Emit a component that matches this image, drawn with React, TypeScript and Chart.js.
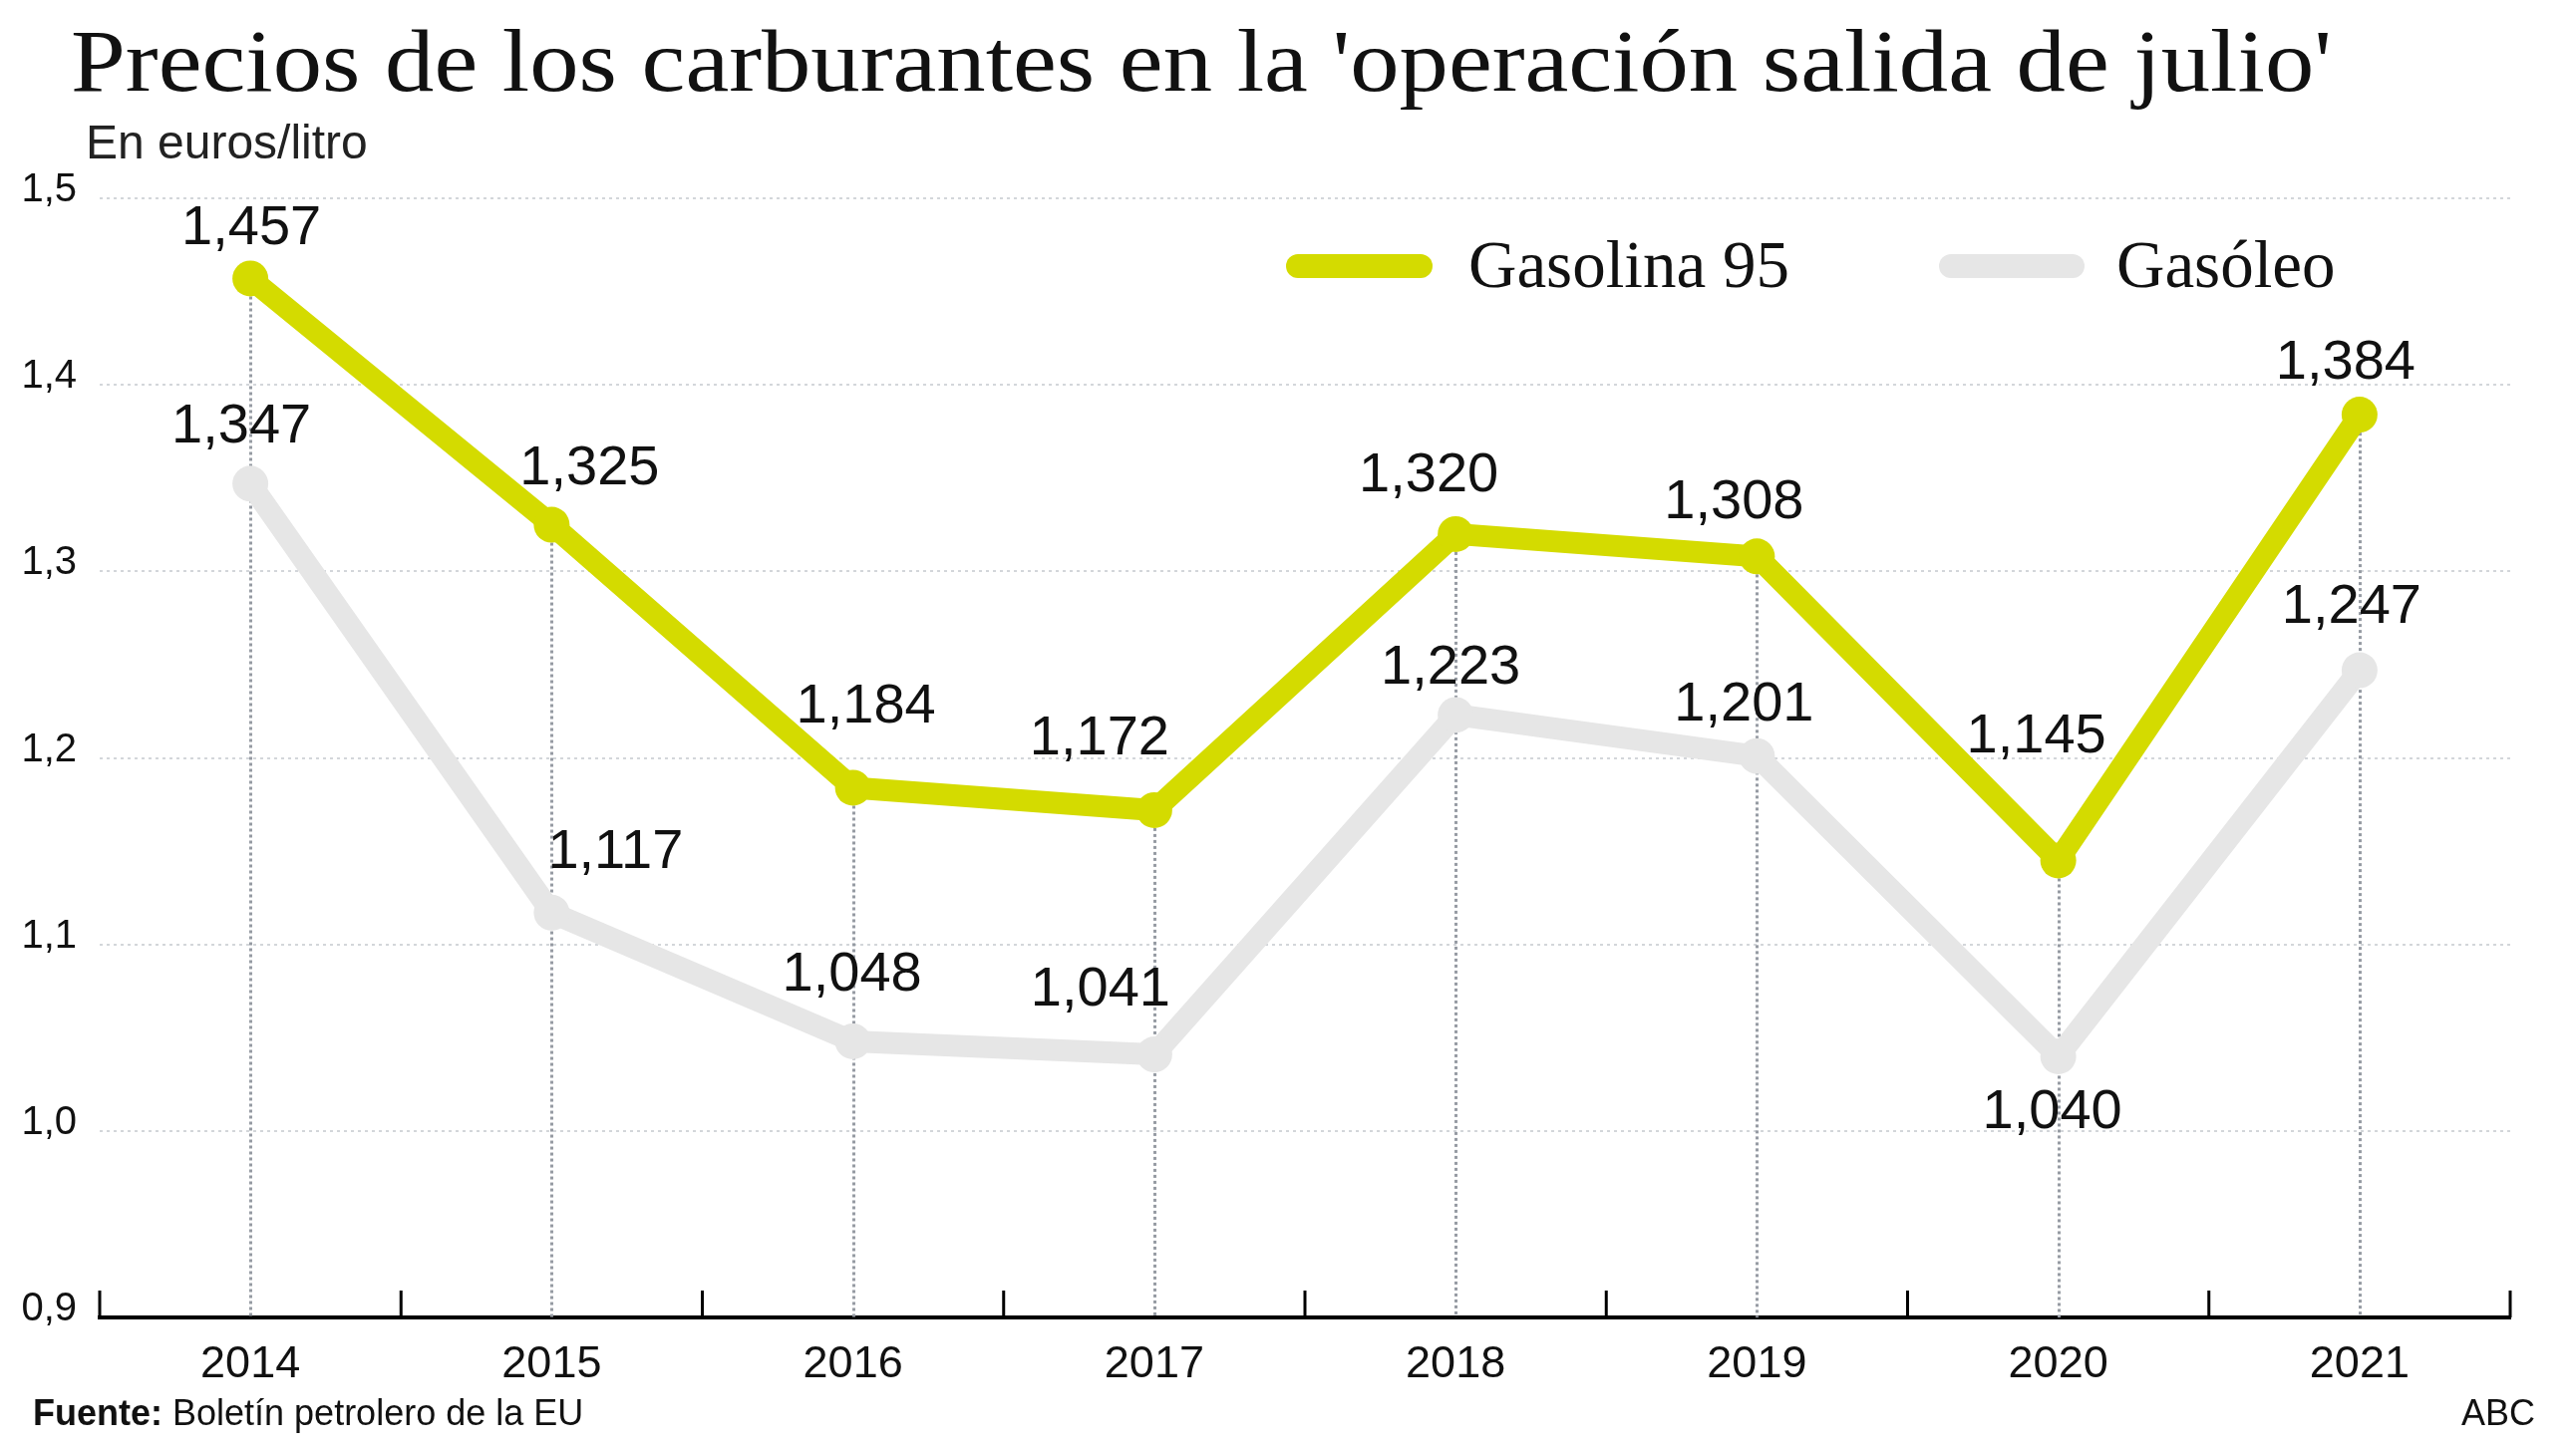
import React, { useEffect, useLayoutEffect, useRef } from "react";
import { Chart, registerables } from "chart.js";

Chart.register(...registerables);

// ---- data ----
const years = ["2014", "2015", "2016", "2017", "2018", "2019", "2020", "2021"];
const gasolina95 = [1.457, 1.325, 1.184, 1.172, 1.32, 1.308, 1.145, 1.384];
const gasoleo = [1.347, 1.117, 1.048, 1.041, 1.223, 1.201, 1.04, 1.247];
const seriesNames = ["Gasolina 95", "Gasóleo"];
const yMin = 0.9;
const yMax = 1.5;
const yStep = 0.1;

// ---- style ----
const gasolinaColor = "#d4db00";
const gasoleoColor = "#e6e6e6";
// value-label placement relative to each point [dx, dy] in px
const gasolinaLabelOffsets = [[1, -50], [38, -56], [13, -81], [-55, -71], [-27, -58], [-23, -54], [-22, -124], [-14, -52]];
const gasoleoLabelOffsets = [[-9, -57], [64, -60], [-1, -66], [-54, -65], [-5, -47], [-13, -51], [-6, 57], [-8, -63]];

const SANS = '"Liberation Sans", Arial, Helvetica, sans-serif';
const SERIF = '"Liberation Serif", "Times New Roman", serif';

const fmt = (v: number, d: number) => v.toFixed(d).replace(".", ",");

const decorPlugin = {
  id: "decor",
  beforeDatasetsDraw(chart: any) {
    const { ctx, chartArea } = chart;
    const xs = chart.scales.x;
    const ys = chart.scales.y;
    ctx.save();
    ctx.strokeStyle = "#969ba3";
    ctx.lineWidth = 3;
    ctx.setLineDash([3, 3]);
    years.forEach((_, i) => {
      const top = Math.max(gasolina95[i], gasoleo[i]);
      const x = Math.round(xs.getPixelForValue(i)) + 0.5;
      const y = ys.getPixelForValue(top);
      ctx.beginPath();
      ctx.moveTo(x, y);
      ctx.lineTo(x, chartArea.bottom);
      ctx.stroke();
    });
    ctx.restore();
  },
  afterDatasetsDraw(chart: any) {
    const { ctx, chartArea } = chart;
    const xs = chart.scales.x;
    // boundary ticks on the x axis
    ctx.save();
    ctx.strokeStyle = "#000";
    ctx.lineWidth = 3;
    for (let i = 0; i <= years.length; i++) {
      const x = xs.getPixelForValue(i - 0.5);
      ctx.beginPath();
      ctx.moveTo(x, chartArea.bottom);
      ctx.lineTo(x, chartArea.bottom - 27);
      ctx.stroke();
    }
    ctx.restore();

    // value labels
    ctx.save();
    ctx.font = `56px ${SANS}`;
    ctx.fillStyle = "#111";
    ctx.textAlign = "center";
    ctx.textBaseline = "middle";
    chart.data.datasets.forEach((ds: any, di: number) => {
      const meta = chart.getDatasetMeta(di);
      const offs = ds.label === seriesNames[0] ? gasolinaLabelOffsets : gasoleoLabelOffsets;
      meta.data.forEach((pt: any, i: number) => {
        const [dx, dy] = offs[i];
        ctx.fillText(fmt(ds.data[i], 3), pt.x + dx, pt.y + dy);
      });
    });
    ctx.restore();
  },
};

export default function App() {
  const canvasRef = useRef<HTMLCanvasElement | null>(null);
  const titleRef = useRef<HTMLDivElement | null>(null);

  useLayoutEffect(() => {
    const el = titleRef.current;
    if (el) {
      el.style.transform = "none";
      const w = el.getBoundingClientRect().width;
      if (w > 0) el.style.transform = `scaleX(${2268 / w})`;
    }
  }, []);

  useEffect(() => {
    if (!canvasRef.current) return;
    const chart = new Chart(canvasRef.current, {
      type: "line",
      data: {
        labels: years,
        datasets: [
          {
            label: seriesNames[1],
            data: gasoleo,
            borderColor: gasoleoColor,
            backgroundColor: gasoleoColor,
            pointBackgroundColor: gasoleoColor,
            pointBorderWidth: 0,
            borderWidth: 22,
            pointRadius: 18,
            pointHoverRadius: 18,
            tension: 0,
            borderJoinStyle: "round",
            borderCapStyle: "round",
          },
          {
            label: seriesNames[0],
            data: gasolina95,
            borderColor: gasolinaColor,
            backgroundColor: gasolinaColor,
            pointBackgroundColor: gasolinaColor,
            pointBorderWidth: 0,
            borderWidth: 22,
            pointRadius: 18,
            pointHoverRadius: 18,
            tension: 0,
            borderJoinStyle: "round",
            borderCapStyle: "round",
          },
        ],
      },
      options: {
        animation: false,
        responsive: true,
        maintainAspectRatio: false,
        events: [],
        layout: { padding: { top: 199, right: 66, bottom: 0, left: 0 } },
        plugins: {
          legend: { display: false },
          title: { display: false },
          tooltip: { enabled: false },
        },
        scales: {
          x: {
            type: "category",
            offset: true,
            grid: { display: false, drawTicks: false },
            border: { display: true, color: "#000", width: 4 },
            ticks: {
              font: { family: SANS, size: 45 },
              color: "#111",
              padding: 21,
              maxRotation: 0,
              autoSkip: false,
            },
            afterFit: (s: any) => {
              s.height = 133;
            },
          },
          y: {
            min: yMin,
            max: yMax,
            ticks: {
              stepSize: yStep,
              font: { family: SANS, size: 40 },
              color: "#111",
              padding: 23,
              labelOffset: -8,
              callback: (v: any) => fmt(Number(v), 1),
            },
            grid: {
              drawTicks: false,
              lineWidth: 2,
              color: (c: any) => (c.tick && c.tick.value <= yMin + 1e-9 ? "rgba(0,0,0,0)" : "#d3d6da"),
            },
            border: { display: false, dash: [3, 4] },
            afterFit: (s: any) => {
              s.width = 100;
            },
          },
        },
      },
      plugins: [decorPlugin],
    } as any);
    return () => chart.destroy();
  }, []);

  const abs: React.CSSProperties = { position: "absolute", margin: 0, lineHeight: 1, whiteSpace: "nowrap" };

  return (
    <div style={{ position: "fixed", left: 0, top: 0, width: "100vw", height: "100vh", background: "#fff", overflow: "hidden" }}>
      <div style={{ position: "absolute", left: 0, top: 0, width: "100%", height: "100%" }}>
        <canvas ref={canvasRef} />
      </div>
      <div
        ref={titleRef}
        style={{ ...abs, left: 71, top: 17, fontFamily: SERIF, fontSize: 89, color: "#111", transformOrigin: "left top", display: "inline-block" }}
      >
        Precios de los carburantes en la 'operación salida de julio'
      </div>
      <div style={{ ...abs, left: 86, top: 119, fontFamily: SANS, fontSize: 48, color: "#222" }}>En euros/litro</div>

      <div style={{ position: "absolute", left: 1290, top: 255, width: 147, height: 24, borderRadius: 12, background: gasolinaColor }} />
      <div style={{ ...abs, left: 1473, top: 232, fontFamily: SERIF, fontSize: 67, color: "#111" }}>{seriesNames[0]}</div>
      <div style={{ position: "absolute", left: 1945, top: 255, width: 146, height: 24, borderRadius: 12, background: gasoleoColor }} />
      <div style={{ ...abs, left: 2123, top: 232, fontFamily: SERIF, fontSize: 67, color: "#111" }}>{seriesNames[1]}</div>

      <div style={{ ...abs, left: 33, top: 1400, fontFamily: SANS, fontSize: 36, color: "#111" }}>
        <b>Fuente:</b> Boletín petrolero de la EU
      </div>
      <div style={{ ...abs, right: 41, top: 1400, fontFamily: SANS, fontSize: 36, color: "#111" }}>ABC</div>
    </div>
  );
}
